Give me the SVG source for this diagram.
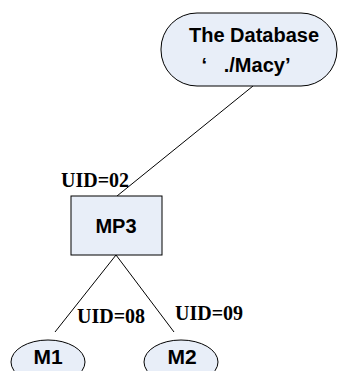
<svg xmlns="http://www.w3.org/2000/svg" width="338" height="371" viewBox="0 0 338 371">
<style>
.shape{fill:#E8EEF8;stroke:#000;stroke-width:1}
.lbl{font-family:"Liberation Sans",Arial,sans-serif;font-weight:bold;fill:#000;text-anchor:middle;white-space:pre}
.uid{font-family:"Liberation Serif","Times New Roman",serif;font-weight:bold;font-size:20px;fill:#000}
.conn{stroke:#000;stroke-width:1;fill:none}
</style>
<rect width="338" height="371" fill="#fff"/>
<g id="connectors">
<line class="conn" x1="253" y1="86" x2="117" y2="196"/>
<line class="conn" x1="116" y1="255" x2="55" y2="332"/>
<line class="conn" x1="116" y1="255" x2="174" y2="332"/>
</g>
<g id="database">
<rect class="shape" x="161" y="13" width="176" height="73" rx="36" ry="36"/>
<text class="lbl" x="254" y="42" font-size="20">The Database</text>
<text class="lbl" x="246" y="72" font-size="20" xml:space="preserve">‘   ./Macy’</text>
</g>
<g id="mp3">
<rect class="shape" x="71" y="196" width="91" height="59"/>
<text class="lbl" x="116" y="233" font-size="20">MP3</text>
<text class="uid" x="61" y="187">UID=02</text>
</g>
<g id="m1">
<ellipse class="shape" cx="48" cy="362" rx="37" ry="22"/>
<text class="lbl" x="48" y="364" font-size="21">M1</text>
<text class="uid" x="77" y="323">UID=08</text>
</g>
<g id="m2">
<ellipse class="shape" cx="181" cy="362" rx="37" ry="22"/>
<text class="lbl" x="182" y="364" font-size="21">M2</text>
<text class="uid" x="175" y="320">UID=09</text>
</g>
</svg>
